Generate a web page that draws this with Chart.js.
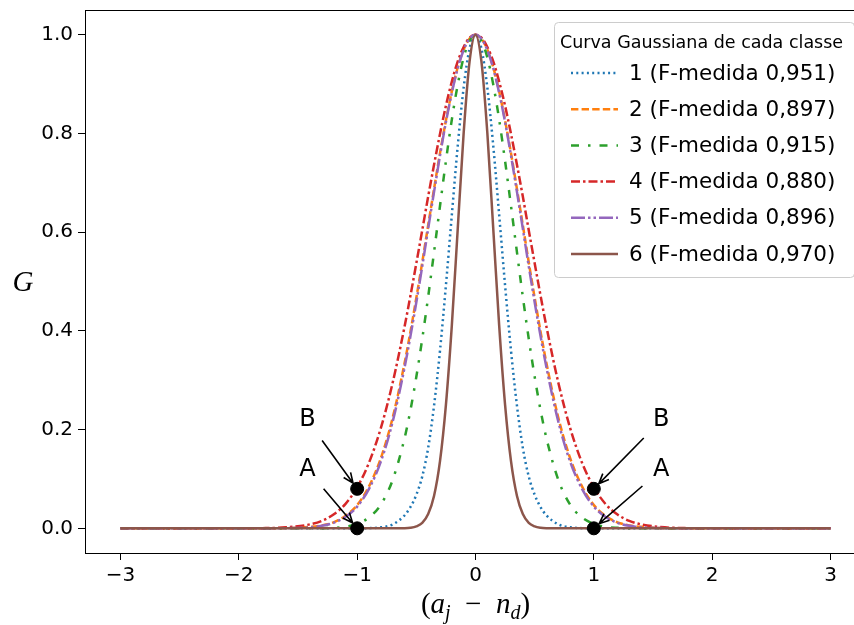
<!DOCTYPE html>
<html>
<head>
<meta charset="utf-8">
<script src="https://cdn.jsdelivr.net/npm/chart.js@4.4.1/dist/chart.umd.min.js"></script>
<style>
  html, body { margin: 0; padding: 0; background: #fff; overflow: hidden; }
</style>
</head>
<body>
<canvas id="c" width="854" height="625"></canvas>
<script>
// x positions where the curves were read
const xVals = [-3, -2.5, -2, -1.8, -1.6, -1.4, -1.3, -1.2, -1.1, -1, -0.9, -0.8, -0.7, -0.6, -0.55, -0.5, -0.45, -0.4, -0.35, -0.3, -0.25, -0.2, -0.15, -0.1, -0.05,
  0, 0.05, 0.1, 0.15, 0.2, 0.25, 0.3, 0.35, 0.4, 0.45, 0.5, 0.55, 0.6, 0.7, 0.8, 0.9, 1, 1.1, 1.2, 1.3, 1.4, 1.6, 1.8, 2, 2.5, 3];

// G values per class
const class1 = [0, 0, 0, 0, 0, 0, 0, 0, 0, 0, 0.0003, 0.002, 0.008, 0.026, 0.043, 0.068, 0.105, 0.163, 0.249, 0.360, 0.492, 0.635, 0.775, 0.893, 0.972,
  1, 0.972, 0.893, 0.775, 0.635, 0.492, 0.360, 0.249, 0.163, 0.105, 0.068, 0.043, 0.026, 0.008, 0.002, 0.0003, 0, 0, 0, 0, 0, 0, 0, 0, 0, 0];
const class2 = [0, 0, 0, 0, 0.0004, 0.003, 0.006, 0.012, 0.025, 0.047, 0.085, 0.142, 0.224, 0.334, 0.398, 0.467, 0.539, 0.614, 0.688, 0.760, 0.826, 0.885, 0.934, 0.970, 0.992,
  1, 0.992, 0.970, 0.934, 0.885, 0.826, 0.760, 0.688, 0.614, 0.539, 0.467, 0.398, 0.334, 0.224, 0.142, 0.085, 0.047, 0.025, 0.012, 0.006, 0.003, 0.0004, 0, 0, 0, 0];
const class3 = [0, 0, 0, 0, 0, 0, 0.0003, 0.001, 0.003, 0.009, 0.022, 0.048, 0.098, 0.182, 0.239, 0.307, 0.384, 0.469, 0.560, 0.653, 0.744, 0.828, 0.899, 0.954, 0.988,
  1, 0.988, 0.954, 0.899, 0.828, 0.744, 0.653, 0.560, 0.469, 0.384, 0.307, 0.239, 0.182, 0.098, 0.048, 0.022, 0.009, 0.003, 0.001, 0.0003, 0, 0, 0, 0, 0, 0];
const class4 = [0, 0, 0, 0.0003, 0.002, 0.008, 0.015, 0.028, 0.049, 0.083, 0.133, 0.203, 0.295, 0.408, 0.471, 0.537, 0.604, 0.672, 0.737, 0.799, 0.856, 0.905, 0.946, 0.975, 0.994,
  1, 0.994, 0.975, 0.946, 0.905, 0.856, 0.799, 0.737, 0.672, 0.604, 0.537, 0.471, 0.408, 0.295, 0.203, 0.133, 0.083, 0.049, 0.028, 0.015, 0.008, 0.002, 0.0003, 0, 0, 0];
const class5 = [0, 0, 0, 0, 0.0003, 0.002, 0.005, 0.011, 0.023, 0.044, 0.080, 0.135, 0.216, 0.325, 0.389, 0.458, 0.531, 0.607, 0.682, 0.755, 0.823, 0.882, 0.932, 0.969, 0.992,
  1, 0.992, 0.969, 0.932, 0.882, 0.823, 0.755, 0.682, 0.607, 0.531, 0.458, 0.389, 0.325, 0.216, 0.135, 0.080, 0.044, 0.023, 0.011, 0.005, 0.002, 0.0003, 0, 0, 0, 0];
const class6 = [0, 0, 0, 0, 0, 0, 0, 0, 0, 0, 0, 0, 0, 0.0003, 0.0012, 0.004, 0.011, 0.029, 0.066, 0.136, 0.250, 0.411, 0.607, 0.801, 0.946,
  1, 0.946, 0.801, 0.607, 0.411, 0.250, 0.136, 0.066, 0.029, 0.011, 0.004, 0.0012, 0.0003, 0, 0, 0, 0, 0, 0, 0, 0, 0, 0, 0, 0, 0];

const seriesLabels = ["1 (F-medida 0,951)", "2 (F-medida 0,897)", "3 (F-medida 0,915)",
  "4 (F-medida 0,880)", "5 (F-medida 0,896)", "6 (F-medida 0,970)"];
const seriesData = [class1, class2, class3, class4, class5, class6];
const legendTitle = "Curva Gaussiana de cada classe";

// marked points and their labels
const annoLabels = ["B", "A", "B", "A"];
const annoTextX = [-1.42, -1.42, 1.57, 1.57];
const annoTextY = [0.219, 0.119, 0.219, 0.119];
const annoPointX = [-1, -1, 1, 1];
const annoPointY = [0.08, 0, 0.08, 0];

const xTicks = [-3, -2, -1, 0, 1, 2, 3];
const yTicks = [0, 0.2, 0.4, 0.6, 0.8, 1.0];

const colors = ["#1f77b4", "#ff7f0e", "#2ca02c", "#d62728", "#9467bd", "#8c564b"];
const dashes = [[2, 3.3], [7.4, 3.2], [8, 9, 2.5, 9], [9, 3, 2.5, 3], [14, 3, 2.5, 3, 2.5, 3], []];

// the axes box runs past the right edge of the picture (it is cropped)
const overhang = 12;

const datasets = seriesData.map((vals, i) => ({
  label: seriesLabels[i],
  data: xVals.map((x, j) => ({ x: x, y: vals[j] })),
  borderColor: colors[i],
  borderWidth: 2.5,
  borderDash: dashes[i],
  borderCapStyle: "butt",
  pointRadius: 0,
  cubicInterpolationMode: "monotone",
  fill: false,
  order: 6 - i + 1
}));
datasets.push({
  type: "scatter",
  label: "pts",
  data: annoPointX.map((x, j) => ({ x: x, y: annoPointY[j] })),
  pointRadius: 6.5,
  backgroundColor: "#000",
  borderColor: "#000",
  order: 0
});

function arrow(ctx, x0, y0, x1, y1) {
  const a = Math.atan2(y1 - y0, x1 - x0);
  ctx.beginPath();
  ctx.moveTo(x0, y0);
  ctx.lineTo(x1, y1);
  ctx.moveTo(x1 - 11 * Math.cos(a - 0.4), y1 - 11 * Math.sin(a - 0.4));
  ctx.lineTo(x1, y1);
  ctx.lineTo(x1 - 11 * Math.cos(a + 0.4), y1 - 11 * Math.sin(a + 0.4));
  ctx.stroke();
}

// stretch the plot area past the right edge
const stretch = {
  id: "stretch",
  afterLayout(chart) {
    const a = chart.chartArea;
    const right = chart.width + overhang;
    a.right = right;
    a.width = right - a.left;
    const xs = chart.scales.x;
    xs.right = right;
    xs.width = right - xs.left;
    xs.configure();
  }
};

const extras = {
  id: "extras",
  afterDatasetsDraw(chart) {
    const ctx = chart.ctx;
    const xs = chart.scales.x, ys = chart.scales.y;
    const area = chart.chartArea;
    ctx.save();
    // top and bottom spines
    ctx.strokeStyle = "#000";
    ctx.lineWidth = 1;
    ctx.beginPath();
    ctx.moveTo(area.left, area.top + 0.5);
    ctx.lineTo(area.right, area.top + 0.5);
    ctx.moveTo(area.left, area.bottom + 0.5);
    ctx.lineTo(area.right, area.bottom + 0.5);
    ctx.stroke();

    // annotations
    ctx.fillStyle = "#000";
    ctx.font = "24px 'DejaVu Sans'";
    ctx.textAlign = "center";
    ctx.textBaseline = "middle";
    ctx.lineWidth = 1.6;
    annoLabels.forEach((lab, i) => {
      const tx = xs.getPixelForValue(annoTextX[i]), ty = ys.getPixelForValue(annoTextY[i]);
      const px = xs.getPixelForValue(annoPointX[i]), py = ys.getPixelForValue(annoPointY[i]);
      ctx.fillText(lab, tx, ty);
      const dx = px - tx, dy = py - ty, len = Math.hypot(dx, dy);
      const ux = dx / len, uy = dy / len;
      arrow(ctx, tx + ux * 25, ty + uy * 25, px - ux * 7, py - uy * 7);
    });

    // legend
    const bw = 300, bh = 255;
    const bx = area.right - 12 - bw, by = area.top + 12;
    ctx.beginPath();
    ctx.roundRect(bx + 0.5, by + 0.5, bw, bh, 4);
    ctx.fillStyle = "rgba(255,255,255,0.8)";
    ctx.fill();
    ctx.strokeStyle = "#cccccc";
    ctx.lineWidth = 1;
    ctx.stroke();
    ctx.fillStyle = "#000";
    ctx.textAlign = "left";
    ctx.font = "17.5px 'DejaVu Sans'";
    ctx.fillText(legendTitle, bx + 6, by + 21);
    ctx.font = "21.5px 'DejaVu Sans'";
    seriesLabels.forEach((lab, i) => {
      const yy = by + 51 + i * 36.2;
      ctx.save();
      ctx.strokeStyle = colors[i];
      ctx.lineWidth = 2.5;
      ctx.lineCap = "butt";
      ctx.setLineDash(dashes[i]);
      ctx.beginPath();
      ctx.moveTo(bx + 17, yy);
      ctx.lineTo(bx + 64, yy);
      ctx.stroke();
      ctx.restore();
      ctx.fillText(lab, bx + 75, yy + 1);
    });

    // axis titles (math style)
    ctx.fillStyle = "#000";
    ctx.font = "italic 29px 'Liberation Serif'";
    ctx.textAlign = "center";
    ctx.fillText("G", 23, 283);

    const parts = [
      ["(", "29px 'Liberation Serif'", 0],
      ["a", "italic 29px 'Liberation Serif'", 0],
      ["j", "italic 20px 'Liberation Serif'", 6],
      ["  \u2212  ", "29px 'Liberation Serif'", 0],
      ["n", "italic 29px 'Liberation Serif'", 0],
      ["d", "italic 20px 'Liberation Serif'", 6],
      [")", "29px 'Liberation Serif'", 0]
    ];
    ctx.textAlign = "left";
    ctx.textBaseline = "alphabetic";
    let total = 0;
    parts.forEach(p => { ctx.font = p[1]; total += ctx.measureText(p[0]).width; });
    let cx = xs.getPixelForValue(0) - total / 2;
    parts.forEach(p => {
      ctx.font = p[1];
      ctx.fillText(p[0], cx, 613 + p[2]);
      cx += ctx.measureText(p[0]).width;
    });
    ctx.restore();
  }
};

const tickFont = { family: "'DejaVu Sans'", size: 20 };

new Chart(document.getElementById("c"), {
  type: "line",
  data: { datasets: datasets },
  plugins: [stretch, extras],
  options: {
    responsive: false,
    devicePixelRatio: 1,
    animation: false,
    layout: { padding: { top: 10, right: 0, left: 0, bottom: 0 } },
    plugins: { legend: { display: false }, tooltip: { enabled: false } },
    scales: {
      x: {
        type: "linear",
        min: -3.3,
        max: 3.3,
        afterBuildTicks: s => { s.ticks = xTicks.map(v => ({ value: v })); },
        afterFit: s => { s.height = 72; s.paddingLeft = 0; s.paddingRight = 0; },
        grid: { display: true, drawOnChartArea: false, drawTicks: true, tickLength: 7, color: "#000", tickWidth: 1 },
        border: { display: true, color: "#000", width: 1 },
        ticks: {
          color: "#000",
          font: tickFont,
          padding: 4,
          maxRotation: 0,
          callback: v => (v < 0 ? "\u2212" + Math.abs(v) : String(v))
        }
      },
      y: {
        type: "linear",
        min: -0.05,
        max: 1.05,
        afterBuildTicks: s => { s.ticks = yTicks.map(v => ({ value: v })); },
        afterFit: s => { s.width = 85; s.paddingTop = 0; s.paddingBottom = 0; },
        grid: { display: true, drawOnChartArea: false, drawTicks: true, tickLength: 7, color: "#000", tickWidth: 1 },
        border: { display: true, color: "#000", width: 1 },
        ticks: {
          color: "#000",
          font: tickFont,
          padding: 5,
          callback: v => v.toFixed(1)
        }
      }
    }
  }
});
</script>
</body>
</html>
